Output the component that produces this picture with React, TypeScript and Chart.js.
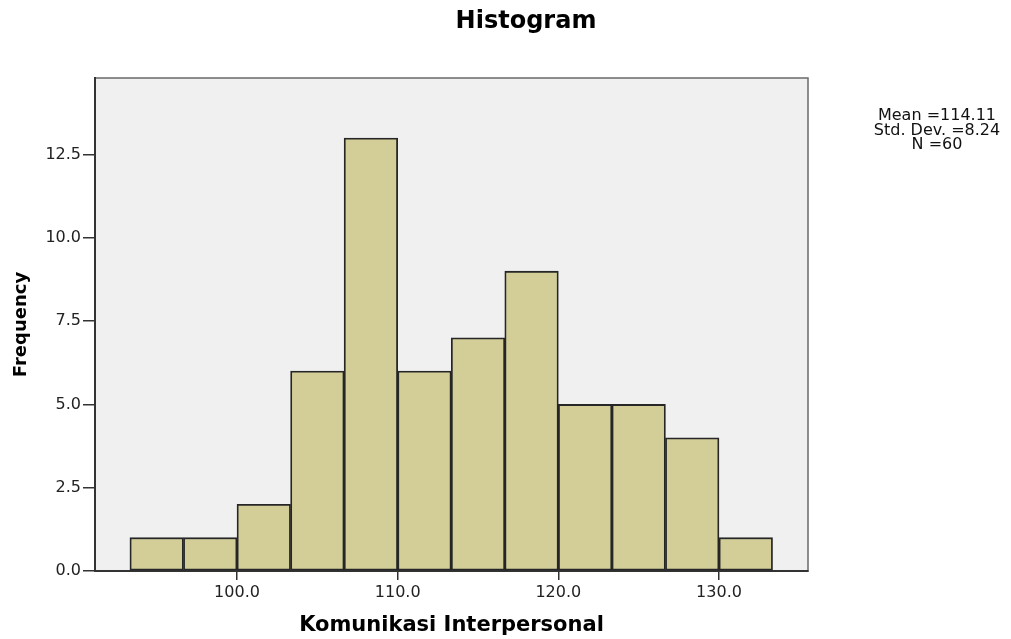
import React, { useEffect, useRef } from "react";
import { Chart, registerables } from "chart.js";

Chart.register(...registerables);

const binCenters = [95, 98.333, 101.667, 105, 108.333, 111.667, 115, 118.333, 121.667, 125, 128.333, 131.667];
const frequencies = [1, 1, 2, 6, 13, 6, 7, 9, 5, 5, 4, 1];
const xTickValues = [100, 110, 120, 130];
const yTickValues = [0, 2.5, 5, 7.5, 10, 12.5];
const statsLines = ["Mean =114.11", "Std. Dev. =8.24", "N =60"];
const chartTitle = "Histogram";
const xTitle = "Komunikasi Interpersonal";
const yTitle = "Frequency";

const plotBackground = {
  id: "plotBackground",
  beforeDraw(chart: any) {
    const { ctx, chartArea } = chart;
    ctx.save();
    ctx.fillStyle = "#f0f0f0";
    ctx.fillRect(chartArea.left, chartArea.top, chartArea.right - chartArea.left, chartArea.bottom - chartArea.top);
    ctx.strokeStyle = "#6a6a6a";
    ctx.lineWidth = 1.5;
    ctx.strokeRect(chartArea.left, chartArea.top, chartArea.right - chartArea.left, chartArea.bottom - chartArea.top);
    ctx.restore();
  },
};

const overlayText = {
  id: "overlayText",
  afterDraw(chart: any) {
    const { ctx } = chart;
    ctx.save();
    ctx.fillStyle = "#000";
    ctx.textAlign = "center";
    ctx.textBaseline = "middle";
    ctx.font = "bold 24px 'DejaVu Sans'";
    ctx.fillText(chartTitle, 526, 22);
    ctx.font = "16px 'DejaVu Sans'";
    ctx.fillStyle = "#111";
    statsLines.forEach((line, i) => {
      ctx.fillText(line, 937, 116 + i * 14.5);
    });
    ctx.restore();
  },
};

export default function App() {
  const canvasRef = useRef<HTMLCanvasElement | null>(null);

  useEffect(() => {
    if (!canvasRef.current) return;
    Chart.defaults.font.family = "'DejaVu Sans'";
    const chart = new Chart(canvasRef.current, {
      type: "bar",
      data: {
        datasets: [
          {
            label: "Frequency",
            data: binCenters.map((x, i) => ({ x, y: frequencies[i] })),
            backgroundColor: "#d3ce97",
            borderColor: "#262626",
            borderWidth: 1.8,
            borderSkipped: false,
            barPercentage: 1,
            categoryPercentage: 1,
          } as any,
        ],
      },
      options: {
        animation: false,
        responsive: false,
        layout: { padding: { left: 0, right: 203, top: 78, bottom: 0 } },
        plugins: {
          legend: { display: false },
          tooltip: { enabled: false },
          title: { display: false },
        },
        scales: {
          x: {
            type: "linear",
            min: 91.16,
            max: 135.54,
            offset: false,
            afterFit: (s: any) => {
              s.height = 68;
            },
            afterBuildTicks: (s: any) => {
              s.ticks = xTickValues.map((v) => ({ value: v }));
            },
            ticks: {
              color: "#222",
              font: { size: 16 },
              padding: 3,
              maxRotation: 0,
              callback: (v: any) => Number(v).toFixed(1),
            },
            grid: { offset: false, drawOnChartArea: false, drawTicks: true, tickLength: 9, color: "#333", lineWidth: 1.5 },
            border: { display: true, color: "#333", width: 2 },
            title: {
              display: true,
              text: xTitle,
              color: "#000",
              font: { size: 21, weight: "bold" },
              padding: { top: 0, bottom: 1 },
            },
          },
          y: {
            type: "linear",
            min: 0,
            max: 14.8,
            afterFit: (s: any) => {
              s.width = 95;
            },
            afterBuildTicks: (s: any) => {
              s.ticks = yTickValues.map((v) => ({ value: v }));
            },
            ticks: {
              color: "#222",
              font: { size: 16 },
              padding: 2,
              callback: (v: any) => Number(v).toFixed(1),
            },
            grid: { drawOnChartArea: false, drawTicks: true, tickLength: 12, color: "#333", lineWidth: 1.5 },
            border: { display: true, color: "#333", width: 2 },
            title: {
              display: true,
              text: yTitle,
              color: "#000",
              font: { size: 18, weight: "bold" },
              padding: { top: 11, bottom: 0 },
            },
          },
        },
      } as any,
      plugins: [plotBackground, overlayText],
    });
    return () => chart.destroy();
  }, []);

  return (
    <div style={{ position: "absolute", left: 0, top: 0, width: 1011, height: 639, background: "#fff" }}>
      <canvas ref={canvasRef} width={1011} height={639} />
    </div>
  );
}
